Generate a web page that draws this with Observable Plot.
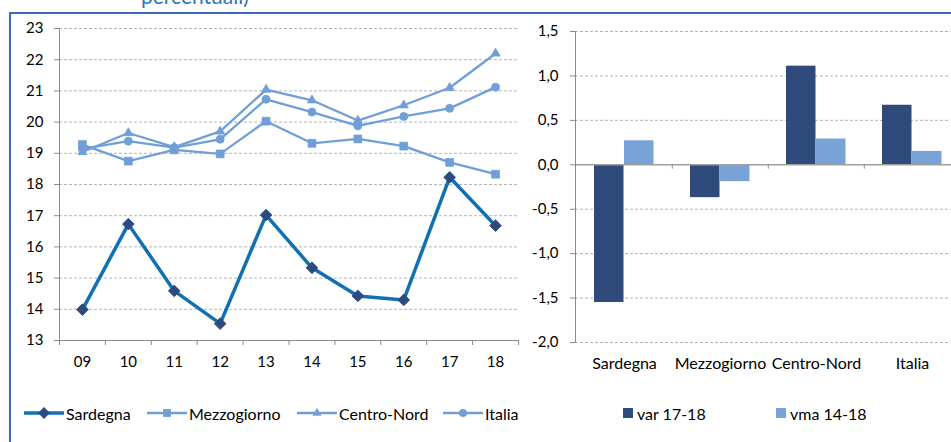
<!DOCTYPE html>
<html>
<head>
<meta charset="utf-8">
<script src="https://cdn.jsdelivr.net/npm/d3@7"></script>
<script src="https://cdn.jsdelivr.net/npm/@observablehq/plot@0.6"></script>
<style>
  html, body { margin: 0; padding: 0; background: #fff; overflow: hidden; }
  #wrap { position: relative; width: 951px; height: 442px; overflow: hidden; font-family: Lato, "Open Sans", sans-serif; color: #000; }
  #title { position: absolute; left: 141px; top: -15px; font-size: 21px; line-height: 1; color: #2e74b5; white-space: nowrap; }
  #frame { position: absolute; left: 9px; top: 12px; width: 960px; height: 440px; border-left: 2px solid #3b6db5; border-top: 2px solid #3b6db5; box-sizing: border-box; }
  #left { position: absolute; left: 0; top: 0; width: 530px; }
  #right { position: absolute; left: 520px; top: 0; width: 441px; }
  #left svg, #right svg { max-width: none !important; display: block; }
  .leg { position: absolute; top: 402px; height: 22px; display: flex; align-items: center; font-size: 16px; white-space: nowrap; }
  .leg svg { display: block; margin-right: 2px; }
</style>
</head>
<body>
<div id="wrap">
  <div id="title">percentuali)</div>
  <div id="frame"></div>
  <div id="left"></div>
  <div id="right"></div>
  <div id="legend"></div>
</div>
<script>
// ---------- data ----------
const years = ["09", "10", "11", "12", "13", "14", "15", "16", "17", "18"];
const sardegna    = [13.99, 16.73, 14.59, 13.54, 17.02, 15.33, 14.43, 14.30, 18.23, 16.68];
const mezzogiorno = [19.28, 18.75, 19.11, 18.98, 20.03, 19.32, 19.46, 19.23, 18.71, 18.33];
const centroNord  = [19.04, 19.65, 19.20, 19.70, 21.04, 20.70, 20.05, 20.54, 21.10, 22.20];
const italia      = [19.14, 19.39, 19.18, 19.45, 20.73, 20.32, 19.88, 20.18, 20.44, 21.12];
const lineTicks = [13, 14, 15, 16, 17, 18, 19, 20, 21, 22, 23];

const areas = ["Sardegna", "Mezzogiorno", "Centro-Nord", "Italia"];
const var1718 = [-1.55, -0.37, 1.11, 0.67];
const vma1418 = [0.27, -0.19, 0.29, 0.15];
const barTicks = [-2, -1.5, -1, -0.5, 0, 0.5, 1, 1.5];
const barSeries = ["var 17-18", "vma 14-18"];

// ---------- styles ----------
const lineSeries = [
  {name: "Sardegna",    values: sardegna,    stroke: "#1170b4", width: 3.5, symbol: "diamond2", r: 5.3, fill: "#2c4a7e"},
  {name: "Mezzogiorno", values: mezzogiorno, stroke: "#6f9fd6", width: 2.3, symbol: "square",   r: 4.4, fill: "#6f9fd6"},
  {name: "Centro-Nord", values: centroNord,  stroke: "#6f9fd6", width: 2.3, symbol: "triangle", r: 3.4, fill: "#6f9fd6"},
  {name: "Italia",      values: italia,      stroke: "#6f9fd6", width: 2.3, symbol: "circle",   r: 4.0, fill: "#6f9fd6"}
];
const barColors = ["#2f4b7c", "#79a3d7"];
const axisGray = "#8a8a8a";
const gridGray = "#b4b4b4";

const locale = d3.formatLocale({decimal: ",", thousands: ".", grouping: [3], currency: ["", "€"], minus: "-"});
const fmt1 = locale.format(".1f");

// ---------- left chart ----------
const idx = years.map((_, i) => i);
const bounds = d3.range(years.length + 1).map(i => i - 0.5);
const lineRows = lineSeries.flatMap(s => s.values.map((v, i) => ({i, value: v, series: s.name})));
const drawOrder = [lineSeries[3], lineSeries[2], lineSeries[1], lineSeries[0]];

const left = Plot.plot({
  width: 530, height: 380,
  marginLeft: 59, marginRight: 12, marginTop: 28, marginBottom: 40,
  style: {fontFamily: "Lato, sans-serif", fontSize: "15px", color: "#000", background: "transparent", overflow: "visible"},
  x: {type: "linear", domain: [-0.5, years.length - 0.5]},
  y: {domain: [13, 23]},
  marks: [
    Plot.gridY(lineTicks.slice(1), {stroke: gridGray, strokeOpacity: 1, strokeDasharray: "3,2"}),
    Plot.frame({anchor: "left", stroke: axisGray}),
    Plot.frame({anchor: "bottom", stroke: axisGray}),
    Plot.axisY(lineTicks, {tickSize: 5, tickPadding: 11, stroke: axisGray, label: null, fontSize: 15}),
    Plot.axisX(bounds, {tickSize: 5, tickFormat: () => "", stroke: axisGray, label: null}),
    Plot.axisX(idx, {tickSize: 0, tickPadding: 16, tickFormat: i => years[i], label: null, fontSize: 15}),
    ...drawOrder.flatMap(s => {
      const rows = lineRows.filter(d => d.series === s.name);
      return [
        Plot.line(rows, {x: "i", y: "value", stroke: s.stroke, strokeWidth: s.width}),
        Plot.dot(rows, {x: "i", y: "value", symbol: () => s.symbol, r: s.r, fill: s.fill, stroke: s.fill, strokeWidth: 0.8})
      ];
    })
  ]
});
document.getElementById("left").appendChild(left);

// ---------- right chart ----------
const barRows = areas.flatMap((a, k) => [
  {area: a, series: barSeries[0], value: var1718[k]},
  {area: a, series: barSeries[1], value: vma1418[k]}
]);
const bandW = (441 - 55) / areas.length;

const right = Plot.plot({
  width: 441, height: 380,
  marginLeft: 55, marginRight: 0, marginTop: 31, marginBottom: 38,
  style: {fontFamily: "Lato, sans-serif", fontSize: "15px", color: "#000", background: "transparent", overflow: "visible"},
  x: {type: "band", domain: areas, padding: 0},
  y: {domain: [-2, 1.5]},
  marks: [
    Plot.gridY(barTicks.filter(t => t !== 0 && t !== -2), {stroke: gridGray, strokeOpacity: 1, strokeDasharray: "3,2"}),
    Plot.ruleY([-2], {stroke: gridGray, strokeDasharray: "3,2"}),
    Plot.barY(barRows.filter(d => d.series === barSeries[0]), {x: "area", y: "value", fill: barColors[0], insetLeft: 18, insetRight: bandW - 48}),
    Plot.barY(barRows.filter(d => d.series === barSeries[1]), {x: "area", y: "value", fill: barColors[1], insetLeft: 48, insetRight: bandW - 78}),
    Plot.ruleY([0], {stroke: "#a0a0a0", strokeWidth: 1.6}),
    Plot.ruleX(areas.slice(1), {x: d => d, y1: 0, y2: -0.05, dx: -bandW / 2, stroke: axisGray}),
    Plot.frame({anchor: "left", stroke: axisGray}),
    Plot.axisY(barTicks, {tickSize: 5, tickPadding: 12, tickFormat: fmt1, stroke: axisGray, label: null, fontSize: 15}),
    Plot.axisX(areas, {tickSize: 0, tickPadding: 15, label: null, fontSize: 16})
  ]
});
document.getElementById("right").appendChild(right);

// ---------- legend ----------
const legend = document.getElementById("legend");
const lineLegendX = [24, 147, 297, 443];
lineSeries.forEach((s, k) => {
  const div = document.createElement("div");
  div.className = "leg";
  div.style.left = lineLegendX[k] + "px";
  const sym = d3.symbol(
    {diamond2: d3.symbolDiamond2, square: d3.symbolSquare, triangle: d3.symbolTriangle, circle: d3.symbolCircle}[s.symbol],
    Math.PI * s.r * s.r
  )();
  div.innerHTML = `<svg width="40" height="14"><line x1="0" x2="40" y1="7" y2="7" stroke="${s.stroke}" stroke-width="${s.width}"/>` +
    `<path transform="translate(20,7)" d="${sym}" fill="${s.fill}"/></svg><span>${s.name}</span>`;
  legend.appendChild(div);
});
const barLegendX = [623, 776];
barSeries.forEach((name, k) => {
  const div = document.createElement("div");
  div.className = "leg";
  div.style.left = barLegendX[k] + "px";
  div.innerHTML = `<svg width="10" height="10" style="margin-right:4px"><rect width="10" height="10" fill="${barColors[k]}"/></svg><span>${name}</span>`;
  legend.appendChild(div);
});
</script>
</body>
</html>
